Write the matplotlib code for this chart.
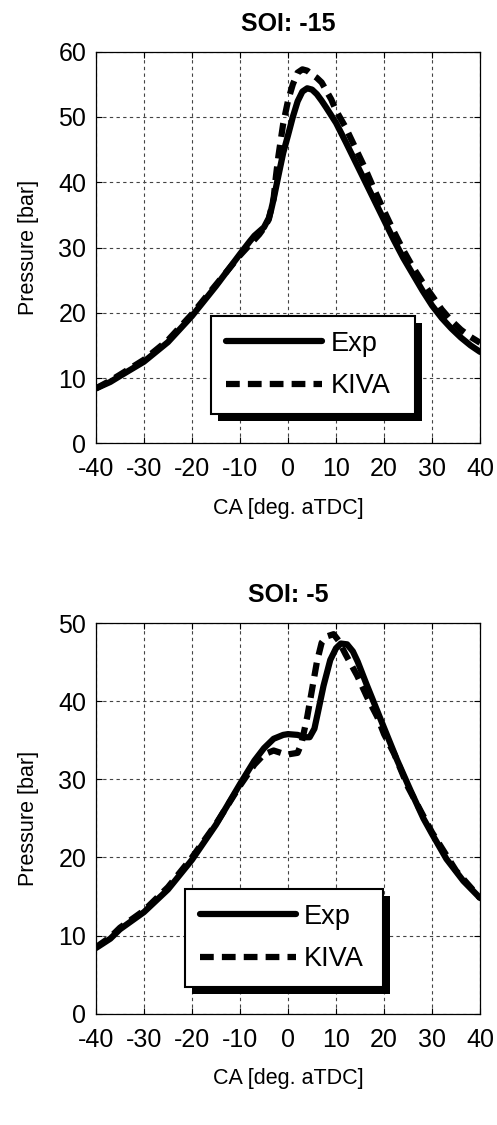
import matplotlib
matplotlib.use("Agg")
from matplotlib import pyplot as plt
from matplotlib.patches import Rectangle
import numpy as np

plt.rcParams['font.family'] = ['Liberation Sans', 'DejaVu Sans']
plt.rcParams['axes.unicode_minus'] = False

# SOI -15
ca_exp15 = [-40, -37, -35, -30, -25, -20, -15, -10, -8, -7, -5, -4, -3.5, -3, -2, -1, 0, 1, 2, 3, 4, 5, 6, 7, 8,
            10, 12, 14, 16, 18, 20, 22, 24, 26, 28, 30, 32, 34, 36, 38, 40]
p_exp15 = [8.4, 9.4, 10.3, 12.5, 15.5, 19.5, 24.1, 29.0, 30.9, 31.8, 33.1, 34.5, 35.8, 37.4, 41.0, 44.5, 47.2, 50.0,
           52.4, 53.9, 54.4, 54.2, 53.5, 52.5, 51.4, 49.1, 46.2, 43.2, 40.2, 37.2, 34.2, 31.2, 28.4, 25.9, 23.4, 21.1,
           19.2, 17.6, 16.2, 15.0, 14.0]
ca_kiva15 = [-40, -37, -35, -30, -25, -20, -15, -10, -8, -6, -5, -4, -3, -2.5, -2, -1, 0, 1, 2, 3, 4, 5, 6, 7, 8, 9,
             10, 12, 14, 16, 18, 20, 22, 24, 26, 28, 30, 32, 34, 36, 38, 40]
p_kiva15 = [8.4, 9.6, 10.5, 12.8, 15.8, 19.8, 24.3, 28.8, 30.4, 32.0, 33.0, 34.3, 37.5, 41.0, 44.0, 49.0, 52.5, 55.0,
            56.8, 57.3, 57.1, 56.5, 56.0, 55.3, 54.0, 52.7, 51.0, 48.4, 45.3, 42.2, 38.8, 35.6, 32.5, 29.6, 27.0, 24.7,
            22.6, 20.5, 18.8, 17.4, 16.3, 15.4]

# SOI -5
ca_exp5 = [-40, -37, -35, -30, -25, -20, -15, -10, -7, -5, -3, -1, 0, 2, 3.5, 4.5, 5.5, 6.2, 7.4, 8.8, 10, 11, 12.3,
           13.5, 14.5, 16.4, 18.5, 20, 22.7, 25.5, 28.2, 30, 33, 36.5, 40]
p_exp5 = [8.4, 9.6, 10.8, 13.0, 15.9, 19.7, 24.2, 29.4, 32.4, 34.0, 35.2, 35.7, 35.8, 35.7, 35.4, 35.4, 36.5, 38.5,
          42.0, 45.3, 46.8, 47.4, 47.3, 46.4, 45.1, 42.1, 38.9, 36.6, 32.5, 28.6, 25.0, 23.0, 19.8, 17.0, 14.8]
ca_kiva5 = [-40, -37, -35, -30, -25, -20, -15, -10, -7, -5, -3, -1, 0, 2, 2.8, 4, 5, 6, 7, 8, 9.5, 10.5, 12, 14.4,
            16.5, 18.6, 20, 22.1, 25, 30, 35, 40]
p_kiva5 = [8.5, 9.8, 11.0, 13.2, 16.2, 20.0, 24.3, 29.2, 31.9, 33.2, 33.7, 33.3, 33.2, 33.4, 34.6, 38.0, 41.5, 45.0,
           47.5, 48.3, 48.6, 47.8, 46.0, 43.3, 40.5, 38.0, 35.8, 33.3, 29.0, 23.2, 18.3, 14.8]

panels = [
    ("SOI: -15", ca_exp15, p_exp15, ca_kiva15, p_kiva15, 60, [0.193, 0.606, 0.773, 0.348], (0.30, 0.075, 0.531, 0.0)),
    ("SOI: -5", ca_exp5, p_exp5, ca_kiva5, p_kiva5, 50, [0.193, 0.099, 0.773, 0.347], (0.232, 0.068, 0.516, 0.0)),
]

fig = plt.figure(figsize=(4.97, 11.25), dpi=100)
legends = []
for title, xe, ye, xk, yk, ymax, pos, lbox in panels:
    ax = fig.add_axes(pos)
    ax.plot(xe, ye, color='black', lw=4.5, solid_capstyle='round', solid_joinstyle='round', label='Exp')
    ax.plot(xk, yk, color='black', lw=4.5, dashes=(2.2, 1.3), dash_capstyle='butt', label='KIVA')
    ax.set_xlim(-40, 40)
    ax.set_ylim(0, ymax)
    ax.set_xticks(np.arange(-40, 41, 10))
    ax.set_yticks(np.arange(0, ymax + 1, 10))
    ax.grid(True, color='#444444', linestyle=(0, (3, 3)), linewidth=0.8)
    ax.tick_params(direction='in', top=True, right=True, length=4, width=0.8, labelsize=18, pad=7)
    ax.tick_params(axis='x', pad=10)
    for s in ax.spines.values():
        s.set_linewidth(0.9)
    ax.set_title(title, fontsize=18, fontweight='bold', pad=15)
    ax.set_xlabel('CA [deg. aTDC]', fontsize=15.5, labelpad=12)
    ax.set_ylabel('Pressure [bar]', fontsize=15.5, labelpad=14)
    leg = ax.legend(loc='lower left', bbox_to_anchor=lbox, mode='expand', borderaxespad=0, fontsize=19.5,
                    handlelength=3.55, handletextpad=0.3, labelspacing=0.6, borderpad=0.55, fancybox=False,
                    framealpha=1, edgecolor='black')
    leg.get_frame().set_linewidth(1.5)
    legends.append((ax, leg))

fig.canvas.draw()
for ax, leg in legends:
    bb = leg.get_window_extent().transformed(fig.transFigure.inverted())
    dx, dy = 7 / 497, 7 / 1125
    sh = Rectangle((bb.x0 + dx, bb.y0 - dy), bb.width, bb.height, transform=fig.transFigure,
                   facecolor='black', edgecolor='none', zorder=4.5)
    ax.add_artist(sh)
    sh.set_clip_on(False)

fig.savefig('out.png', dpi=100)
